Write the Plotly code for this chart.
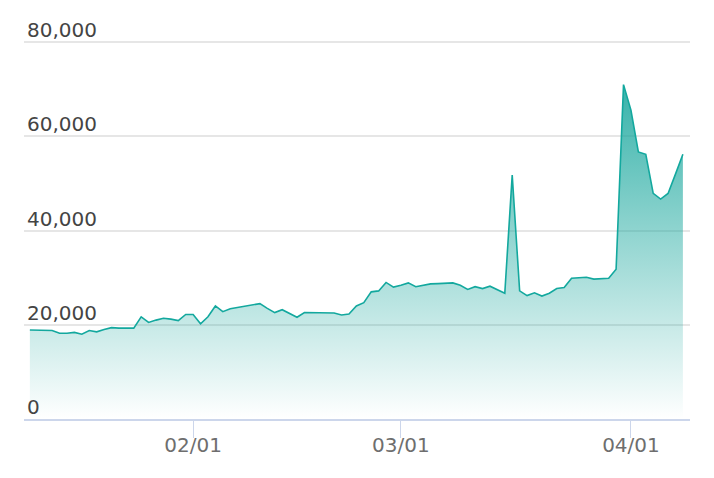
import pandas as pd
import plotly.graph_objects as go

start_date = "2021-01-10"
values = [
    18900, 18900, 18900, 18800, 18200, 18200, 18400, 18000, 18800, 18500,
    19000, 19400, 19300, 19300, 19300, 21700, 20500, 21000, 21400, 21200,
    20900, 22200, 22200, 20200, 21700, 24000, 22800, 23400, 23700, 23900,
    24200, 24500, 23500, 22600, 23200, 22400, 21600, 22600, 22600, 22550,
    22500, 22500, 22100, 22300, 24000, 24700, 27000, 27200, 29000, 28000,
    28400, 28900, 28100, 28400, 28700, 28750, 28800, 28900, 28400, 27500,
    28100, 27700, 28200, 27500, 26700, 51800, 27200, 26200, 26800, 26100,
    26700, 27700, 27900, 29900, 30000, 30100, 29700, 29800, 29900, 31800,
    71000, 65600, 56700, 56200, 47900, 46700, 47900, 52000, 56200,
]
dates = pd.date_range(start_date, periods=len(values), freq="D")

tick_dates = ["2021-02-01", "2021-03-01", "2021-04-01"]
tick_labels = ["02/01", "03/01", "04/01"]
y_ticks = [0, 20000, 40000, 60000, 80000]
y_labels = ["0", "20,000", "40,000", "60,000", "80,000"]

teal = "20,165,155"

fig = go.Figure()
fig.add_trace(go.Scatter(
    x=dates, y=values, mode="lines",
    line=dict(color="rgb(19,168,158)", width=1.6),
    fill="tozeroy",
    fillgradient=dict(
        type="vertical", start=0, stop=max(values),
        colorscale=[[0, f"rgba({teal},0.0)"], [1, f"rgba({teal},0.85)"]],
    ),
    hoverinfo="skip",
    showlegend=False,
))

x0 = dates[0] - pd.Timedelta(hours=19)
x1 = dates[-1] + pd.Timedelta(hours=23)

fig.update_layout(
    width=714, height=478,
    margin=dict(l=24, r=24, t=14, b=59, autoexpand=False),
    paper_bgcolor="white", plot_bgcolor="white",
    font=dict(family="DejaVu Sans", size=20, color="#6e6e6e"),
    xaxis=dict(
        range=[x0, x1],
        tickvals=pd.to_datetime(tick_dates), ticktext=tick_labels,
        showgrid=False, showline=True, linecolor="#ccd6eb", linewidth=2,
        ticks="outside", ticklen=17, tickcolor="#ccd6eb", tickwidth=1,
        ticklabelstandoff=-10,
        zeroline=False, fixedrange=True,
    ),
    yaxis=dict(
        range=[0, 86000],
        tickvals=y_ticks, ticktext=y_labels,
        ticklabelposition="inside top",
        ticklabelshift=2,
        showgrid=True, gridcolor="#e6e6e6", gridwidth=1.5,
        zeroline=False, showline=False, ticks="", fixedrange=True,
    ),
)

fig.write_html(
    "out.html",
    config={"displayModeBar": False},
    post_script="document.body.style.margin='0';document.body.style.padding='0';",
)
